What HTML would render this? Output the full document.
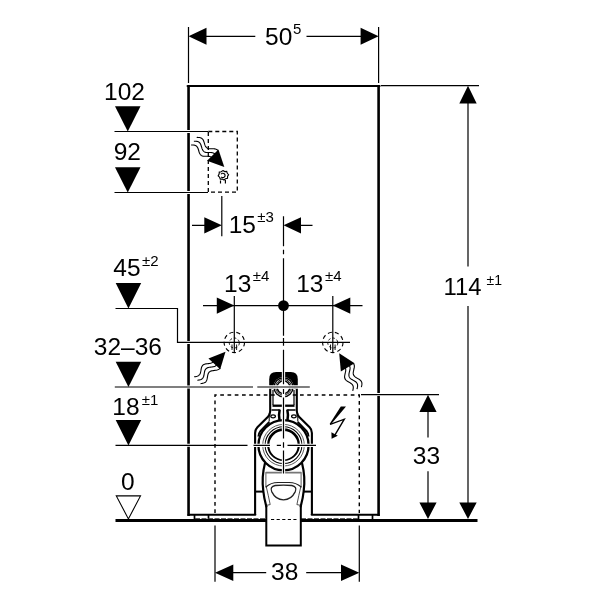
<!DOCTYPE html>
<html lang="en"><head><meta charset="utf-8"><title>Dimension drawing</title>
<style>html,body{margin:0;padding:0;background:#fff;width:600px;height:600px;overflow:hidden}svg{display:block;will-change:transform;filter:grayscale(1)}</style></head>
<body>
<svg width="600" height="600" viewBox="0 0 600 600">
<rect width="600" height="600" fill="#fff"/>
<g font-family="'Liberation Sans', Arial, sans-serif" fill="#000">
<path d="M188.55,515.9 V86 M378.6,515.9 V86" stroke="#000" stroke-width="2.6" fill="none"/>
<path d="M187.6,86 H379.6 M188.5,514.8 H255.3 M311.7,514.8 H378.6" stroke="#000" stroke-width="2.1" fill="none" stroke-linecap="round"/>
<path d="M194.5,515 V520 M208.5,515 V520 M358.5,515 V520 M372.5,515 V520" stroke="#000" stroke-width="1.7" fill="none"/>
<path d="M195,518.5 H266 M301,518.5 H358.5" stroke="#333" stroke-width="0.8" stroke-dasharray="5 1.5" fill="none"/>
<path d="M186,131.5 H191 M186,192.5 H191 M186,342.4 H191 M186,387 H191 M186,445.35 H191 M376,394.6 H381.5" stroke="#fff" stroke-width="3" fill="none"/>
<path d="M115.5,520.4 H266.3 M300.8,520.4 H477.5" stroke="#000" stroke-width="3" fill="none"/>
<path d="M188.5,27 V83 M378.6,27 V83" stroke="#000" stroke-width="1.2" fill="none"/>
<path d="M205,36.3 H255.3 M306.5,36.3 H362" stroke="#000" stroke-width="1.2" fill="none"/>
<path d="M188.5,36.3 L206.5,27.8 V44.8 Z M378.6,36.3 L360.6,27.8 V44.8 Z"/>
<text x="265" y="44.8" font-size="24.5">50<tspan font-size="15" dy="-11.3" dx="0.7">5</tspan></text>
<path d="M381,85.6 H479" stroke="#000" stroke-width="1.2" fill="none"/>
<path d="M468,102 V266.4 M468,306 V504" stroke="#000" stroke-width="1.2" fill="none"/>
<path d="M468,85.8 L459.3,103.6 H476.7 Z M468,519 L459.3,502.4 H476.7 Z"/>
<text x="443.5" y="295" font-size="23.5" textLength="38" lengthAdjust="spacingAndGlyphs">114</text>
<text x="486.5" y="285.3" font-size="14">±1</text>
<path d="M361,394.6 H439" stroke="#000" stroke-width="1.2" fill="none"/>
<path d="M428,410 V437.4 M428,471.2 V504" stroke="#000" stroke-width="1.2" fill="none"/>
<path d="M428,394.8 L419.4,412 H436.6 Z M428,519 L419.4,502.4 H436.6 Z"/>
<text x="412.8" y="464.1" font-size="24.5">33</text>
<path d="M215,525.5 V581.7 M359.3,525.5 V581.7" stroke="#000" stroke-width="1.2" fill="none"/>
<path d="M232,572.7 H266.2 M306.2,572.7 H342" stroke="#000" stroke-width="1.2" fill="none"/>
<path d="M215,572.7 L233.3,564.4 V581 Z M359.3,572.7 L341,564.4 V581 Z"/>
<text x="271" y="579.8" font-size="24.5">38</text>
<path d="M115.0,106.2 H140.5 L127.75,131.5 Z"/>
<path d="M115.0,167.2 H140.5 L127.75,192.5 Z"/>
<path d="M115.7,283.1 H141.2 L128.45,308.4 Z"/>
<path d="M115.7,361.7 H141.2 L128.45,387.0 Z"/>
<path d="M115.7,420.1 H141.2 L128.45,445.4 Z"/>
<path d="M116.3,495.9 H140.5 L128.4,518.9 Z" fill="#fff" stroke="#000" stroke-width="1.1"/>
<text x="104" y="100.2" font-size="24.5">102</text>
<text x="113.7" y="160.3" font-size="24.5">92</text>
<text x="113.3" y="276" font-size="24.5">45<tspan font-size="15" dy="-9.6" dx="1.5">±2</tspan></text>
<text x="93.8" y="355" font-size="24.5">32–36</text>
<text x="112.3" y="414.7" font-size="24.5">18<tspan font-size="15" dy="-9.9" dx="2.2">±1</tspan></text>
<text x="121" y="490" font-size="24.5">0</text>
<path d="M114.5,131.5 H208 M114.5,192.5 H208" stroke="#000" stroke-width="1.2" fill="none"/>
<path d="M115.5,308.5 H177.5 V342.4 H350" stroke="#000" stroke-width="1.2" fill="none"/>
<rect x="208.3" y="131.5" width="29" height="60.7" fill="none" stroke="#000" stroke-width="1.3" stroke-dasharray="4 3"/>
<g fill="none" stroke="#000" stroke-width="1.15"><path d="M222.9,170.6 l1.8,1 l2,-0.2 l0.6,1.9 l1.3,1.4 l-1,1.6 l-0.1,2 l-2,0.5 l-1.5,1.2 l-1.7,-0.9 l-2,0 l-0.7,-1.9 l-1.4,-1.4 l0.9,-1.7 l0.2,-2 l1.9,-0.4 Z"/><path d="M221,174.3 a2.2,2.2 0 1 1 0.2,2.6"/><path d="M220.5,180.4 V183.4 M225.4,180 V183.5"/></g>
<path d="M221.8,196 V236.3" stroke="#000" stroke-width="1.2" fill="none"/>
<path d="M192,225.3 H206 M299,225.3 H312.5" stroke="#000" stroke-width="1.2" fill="none"/>
<path d="M221.8,225.3 L204.3,217.2 V233.6 Z M283.5,225.3 L301,217.2 V233.6 Z"/>
<text x="228.7" y="232.7" font-size="24.5">15<tspan font-size="15" dy="-11" dx="1.3">±3</tspan></text>
<path d="M203,305.6 H362.5" stroke="#000" stroke-width="1.2" fill="none"/>
<path d="M234.3,296 V352.5 M332.8,296 V352.5" stroke="#000" stroke-width="1.2" fill="none"/>
<path d="M234.3,305.6 L216.8,297.4 V313.8 Z M332.8,305.6 L350.3,297.4 V313.8 Z"/>
<circle cx="283.5" cy="305.6" r="5.4"/>
<text x="224" y="291.7" font-size="24.5">13<tspan font-size="15" dy="-10.3" dx="1.5">±4</tspan></text>
<text x="296.2" y="291.7" font-size="24.5">13<tspan font-size="15" dy="-10.3" dx="1.5">±4</tspan></text>
<circle cx="234.3" cy="342.4" r="10.2" fill="none" stroke="#000" stroke-width="1.1" stroke-dasharray="4.1 3.02"/>
<circle cx="234.3" cy="343" r="5" fill="none" stroke="#000" stroke-width="0.9" stroke-dasharray="2.5 2"/>
<path d="M232.0,344.5 V350 M236.60000000000002,344.5 V350" stroke="#000" stroke-width="0.9" fill="none"/>
<circle cx="332.8" cy="342.4" r="10.2" fill="none" stroke="#000" stroke-width="1.1" stroke-dasharray="4.1 3.02"/>
<circle cx="332.8" cy="343" r="5" fill="none" stroke="#000" stroke-width="0.9" stroke-dasharray="2.5 2"/>
<path d="M330.5,344.5 V350 M335.1,344.5 V350" stroke="#000" stroke-width="0.9" fill="none"/>
<g transform="translate(224.3,167) rotate(45.6)"><path d="M-40.00,-4.70 L-39.38,-5.17 L-38.75,-5.62 L-38.12,-6.04 L-37.50,-6.39 L-36.88,-6.68 L-36.25,-6.88 L-35.62,-6.98 L-35.00,-6.99 L-34.38,-6.90 L-33.75,-6.72 L-33.12,-6.46 L-32.50,-6.11 L-31.88,-5.71 L-31.25,-5.26 L-30.62,-4.80 L-30.00,-4.32 L-29.38,-3.86 L-28.75,-3.44 L-28.12,-3.07 L-27.50,-2.77 L-26.88,-2.56 L-26.25,-2.43 L-25.62,-2.40 L-25.00,-2.47 L-24.38,-2.63 L-23.75,-2.88 L-23.12,-3.21 L-22.50,-3.61 L-21.88,-4.04 L-21.25,-4.51 L-20.62,-4.98 L-20.00,-5.45 L-19.38,-5.88 L-18.75,-6.26 L-18.12,-6.57 L-17.50,-6.81 L-16.88,-6.95 L-16.25,-7.00 L-15.62,-6.95 L-15.00,-6.81 M-40.00,0.00 L-39.38,-0.47 L-38.75,-0.92 L-38.12,-1.34 L-37.50,-1.69 L-36.88,-1.98 L-36.25,-2.18 L-35.62,-2.28 L-35.00,-2.29 L-34.38,-2.20 L-33.75,-2.02 L-33.12,-1.76 L-32.50,-1.41 L-31.88,-1.01 L-31.25,-0.56 L-30.62,-0.10 L-30.00,0.38 L-29.38,0.84 L-28.75,1.26 L-28.12,1.63 L-27.50,1.93 L-26.88,2.14 L-26.25,2.27 L-25.62,2.30 L-25.00,2.23 L-24.38,2.07 L-23.75,1.82 L-23.12,1.49 L-22.50,1.09 L-21.88,0.66 L-21.25,0.19 L-20.62,-0.28 L-20.00,-0.75 L-19.38,-1.18 L-18.75,-1.56 L-18.12,-1.87 L-17.50,-2.11 L-16.88,-2.25 L-16.25,-2.30 L-15.62,-2.25 L-15.00,-2.11 M-40.00,4.70 L-39.38,4.23 L-38.75,3.78 L-38.12,3.36 L-37.50,3.01 L-36.88,2.72 L-36.25,2.52 L-35.62,2.42 L-35.00,2.41 L-34.38,2.50 L-33.75,2.68 L-33.12,2.94 L-32.50,3.29 L-31.88,3.69 L-31.25,4.14 L-30.62,4.60 L-30.00,5.08 L-29.38,5.54 L-28.75,5.96 L-28.12,6.33 L-27.50,6.63 L-26.88,6.84 L-26.25,6.97 L-25.62,7.00 L-25.00,6.93 L-24.38,6.77 L-23.75,6.52 L-23.12,6.19 L-22.50,5.79 L-21.88,5.36 L-21.25,4.89 L-20.62,4.42 L-20.00,3.95 L-19.38,3.52 L-18.75,3.14 L-18.12,2.83 L-17.50,2.59 L-16.88,2.45 L-16.25,2.40 L-15.62,2.45 L-15.00,2.59" transform="rotate(-9 -16.5 0)" fill="none" stroke="#000" stroke-width="1.1"/><path d="M0,0 L-16.5,-8 L-16.5,8 Z" fill="#000"/></g>
<g transform="translate(225.5,351.8) rotate(-47.4)"><path d="M-40.00,-4.70 L-39.38,-4.23 L-38.75,-3.78 L-38.12,-3.36 L-37.50,-3.01 L-36.88,-2.72 L-36.25,-2.52 L-35.62,-2.42 L-35.00,-2.41 L-34.38,-2.50 L-33.75,-2.68 L-33.12,-2.94 L-32.50,-3.29 L-31.88,-3.69 L-31.25,-4.14 L-30.62,-4.60 L-30.00,-5.08 L-29.38,-5.54 L-28.75,-5.96 L-28.12,-6.33 L-27.50,-6.63 L-26.88,-6.84 L-26.25,-6.97 L-25.62,-7.00 L-25.00,-6.93 L-24.38,-6.77 L-23.75,-6.52 L-23.12,-6.19 L-22.50,-5.79 L-21.88,-5.36 L-21.25,-4.89 L-20.62,-4.42 L-20.00,-3.95 L-19.38,-3.52 L-18.75,-3.14 L-18.12,-2.83 L-17.50,-2.59 L-16.88,-2.45 L-16.25,-2.40 L-15.62,-2.45 L-15.00,-2.59 M-40.00,0.00 L-39.38,0.47 L-38.75,0.92 L-38.12,1.34 L-37.50,1.69 L-36.88,1.98 L-36.25,2.18 L-35.62,2.28 L-35.00,2.29 L-34.38,2.20 L-33.75,2.02 L-33.12,1.76 L-32.50,1.41 L-31.88,1.01 L-31.25,0.56 L-30.62,0.10 L-30.00,-0.38 L-29.38,-0.84 L-28.75,-1.26 L-28.12,-1.63 L-27.50,-1.93 L-26.88,-2.14 L-26.25,-2.27 L-25.62,-2.30 L-25.00,-2.23 L-24.38,-2.07 L-23.75,-1.82 L-23.12,-1.49 L-22.50,-1.09 L-21.88,-0.66 L-21.25,-0.19 L-20.62,0.28 L-20.00,0.75 L-19.38,1.18 L-18.75,1.56 L-18.12,1.87 L-17.50,2.11 L-16.88,2.25 L-16.25,2.30 L-15.62,2.25 L-15.00,2.11 M-40.00,4.70 L-39.38,5.17 L-38.75,5.62 L-38.12,6.04 L-37.50,6.39 L-36.88,6.68 L-36.25,6.88 L-35.62,6.98 L-35.00,6.99 L-34.38,6.90 L-33.75,6.72 L-33.12,6.46 L-32.50,6.11 L-31.88,5.71 L-31.25,5.26 L-30.62,4.80 L-30.00,4.32 L-29.38,3.86 L-28.75,3.44 L-28.12,3.07 L-27.50,2.77 L-26.88,2.56 L-26.25,2.43 L-25.62,2.40 L-25.00,2.47 L-24.38,2.63 L-23.75,2.88 L-23.12,3.21 L-22.50,3.61 L-21.88,4.04 L-21.25,4.51 L-20.62,4.98 L-20.00,5.45 L-19.38,5.88 L-18.75,6.26 L-18.12,6.57 L-17.50,6.81 L-16.88,6.95 L-16.25,7.00 L-15.62,6.95 L-15.00,6.81" transform="rotate(3.7 -16.5 0)" fill="none" stroke="#000" stroke-width="1.1"/><path d="M0,0 L-16.5,-8 L-16.5,8 Z" fill="#000"/></g>
<g transform="translate(339.2,353.3) rotate(-121)"><path d="M-40.00,-4.70 L-39.38,-4.23 L-38.75,-3.78 L-38.12,-3.36 L-37.50,-3.01 L-36.88,-2.72 L-36.25,-2.52 L-35.62,-2.42 L-35.00,-2.41 L-34.38,-2.50 L-33.75,-2.68 L-33.12,-2.94 L-32.50,-3.29 L-31.88,-3.69 L-31.25,-4.14 L-30.62,-4.60 L-30.00,-5.08 L-29.38,-5.54 L-28.75,-5.96 L-28.12,-6.33 L-27.50,-6.63 L-26.88,-6.84 L-26.25,-6.97 L-25.62,-7.00 L-25.00,-6.93 L-24.38,-6.77 L-23.75,-6.52 L-23.12,-6.19 L-22.50,-5.79 L-21.88,-5.36 L-21.25,-4.89 L-20.62,-4.42 L-20.00,-3.95 L-19.38,-3.52 L-18.75,-3.14 L-18.12,-2.83 L-17.50,-2.59 L-16.88,-2.45 L-16.25,-2.40 L-15.62,-2.45 L-15.00,-2.59 M-40.00,0.00 L-39.38,0.47 L-38.75,0.92 L-38.12,1.34 L-37.50,1.69 L-36.88,1.98 L-36.25,2.18 L-35.62,2.28 L-35.00,2.29 L-34.38,2.20 L-33.75,2.02 L-33.12,1.76 L-32.50,1.41 L-31.88,1.01 L-31.25,0.56 L-30.62,0.10 L-30.00,-0.38 L-29.38,-0.84 L-28.75,-1.26 L-28.12,-1.63 L-27.50,-1.93 L-26.88,-2.14 L-26.25,-2.27 L-25.62,-2.30 L-25.00,-2.23 L-24.38,-2.07 L-23.75,-1.82 L-23.12,-1.49 L-22.50,-1.09 L-21.88,-0.66 L-21.25,-0.19 L-20.62,0.28 L-20.00,0.75 L-19.38,1.18 L-18.75,1.56 L-18.12,1.87 L-17.50,2.11 L-16.88,2.25 L-16.25,2.30 L-15.62,2.25 L-15.00,2.11 M-40.00,4.70 L-39.38,5.17 L-38.75,5.62 L-38.12,6.04 L-37.50,6.39 L-36.88,6.68 L-36.25,6.88 L-35.62,6.98 L-35.00,6.99 L-34.38,6.90 L-33.75,6.72 L-33.12,6.46 L-32.50,6.11 L-31.88,5.71 L-31.25,5.26 L-30.62,4.80 L-30.00,4.32 L-29.38,3.86 L-28.75,3.44 L-28.12,3.07 L-27.50,2.77 L-26.88,2.56 L-26.25,2.43 L-25.62,2.40 L-25.00,2.47 L-24.38,2.63 L-23.75,2.88 L-23.12,3.21 L-22.50,3.61 L-21.88,4.04 L-21.25,4.51 L-20.62,4.98 L-20.00,5.45 L-19.38,5.88 L-18.75,6.26 L-18.12,6.57 L-17.50,6.81 L-16.88,6.95 L-16.25,7.00 L-15.62,6.95 L-15.00,6.81" transform="rotate(7.6 -16.5 0)" fill="none" stroke="#000" stroke-width="1.1"/><path d="M0,0 L-16.5,-8 L-16.5,8 Z" fill="#000"/></g>
<path d="M215,513 V395 H359.3 V513" fill="none" stroke="#000" stroke-width="1.4" stroke-dasharray="3.7 3.55"/>
<path d="M340.8,406.6 H346 L330.6,424.8 L329.6,423.9 Z" fill="#000"/>
<path d="M330.2,424.3 L344.3,419.2 L335,434.8" fill="none" stroke="#000" stroke-width="1.35" stroke-linejoin="miter"/>
<path d="M331.6,438.8 L331.4,432.2 L337.8,435.8 Z" fill="#000"/>
<g fill="none" stroke="#000" stroke-linejoin="round">
<path d="M270.2,386 V411 Q270.2,414.5 268,416.7 L257.4,427.3 Q255.1,429.6 255.1,433 V514.8" stroke-width="2.1"/>
<path d="M269.2,413 V421.5" stroke-width="1"/>
<path d="M269.3,421.8 L260.5,430.8 Q258.8,432.8 258.4,436.5" stroke-width="1.9"/>
<path d="M255.1,491.6 H263.3" stroke-width="2"/>
<path d="M296.8,386 V411 Q296.8,414.5 299.0,416.7 L309.6,427.3 Q311.9,429.6 311.9,433 V514.8" stroke-width="2.1"/>
<path d="M297.8,413 V421.5" stroke-width="1"/>
<path d="M297.7,421.8 L306.5,430.8 Q308.2,432.8 308.6,436.5" stroke-width="1.9"/>
<path d="M311.9,491.6 H303.7" stroke-width="2"/>
<circle cx="283.5" cy="445.2" r="25.1" stroke-width="2.3"/>
<circle cx="283.5" cy="445.2" r="20.8" stroke-width="0.8" stroke="#333"/>
<circle cx="283.5" cy="445.1" r="18.4" stroke-width="1.05"/>
</g>
<path fill-rule="evenodd" fill="#000" d="M267.1,444.7 a16.4,16.4 0 1 0 32.8,0 a16.4,16.4 0 1 0 -32.8,0 Z M269.3,445.2 a14.2,14.2 0 1 0 28.4,0 a14.2,14.2 0 1 0 -28.4,0 Z"/>
<path d="M269.2,389 V379.2 Q269.2,372.1 276.2,372.1 H290.8 Q297.8,372.1 297.8,379.2 V389 Z" fill="#000"/>
<circle cx="283.5" cy="387.2" r="10.3" fill="#fff"/>
<g fill="none" stroke="#000">
<circle cx="283.5" cy="387.2" r="9.5" stroke-width="1.4"/>
<circle cx="283.5" cy="387.2" r="7.9" stroke-width="0.9"/>
<circle cx="283.5" cy="387.2" r="6.4" stroke-width="1.5"/>
<path d="M273,390 V405 M294,390 V405" stroke-width="1.2"/>
<path d="M272.5,405.7 H294.5" stroke-width="2.3"/>
<path d="M271.5,410 H279.7 M287.3,410 H295.5" stroke-width="1.4"/>
<path d="M279.7,409.6 Q278.5,415 279.5,420 M287.3,409.6 Q288.5,415 287.5,420" stroke-width="2.5"/>
<ellipse cx="273.1" cy="416.3" rx="2.3" ry="1.5" stroke-width="1.3"/>
<ellipse cx="293.9" cy="416.3" rx="2.3" ry="1.5" stroke-width="1.3"/>
</g>
<g fill="none" stroke="#000" stroke-linecap="round">
<path d="M264.9,463.5 C263.2,470 262,481 263.3,491 C264,498 265.4,503 266.3,506.5 M302.1,463.5 C303.8,470 305,481 303.7,491 C303,498 301.6,503 300.7,506.5" stroke-width="2.2"/>
<path d="M265.9,472.5 V487 M301.1,472.5 V487" stroke-width="0.8" stroke="#333"/>
<path d="M266.3,506 V545.5 H300.8 V506" stroke-width="2" stroke-linejoin="miter" stroke-linecap="butt"/>
<path d="M265.8,472.6 H301.2" stroke-width="1.8" stroke="#777" stroke-linecap="butt"/>
<path d="M266.2,486.8 C269,484.2 273,482.6 278,482.5 H289 C294,482.6 298,484.2 300.9,486.8" stroke-width="1.2" stroke="#222"/>
<path d="M266.3,486.8 Q268.5,496 270.2,504.6 L267.2,505.2 M300.8,486.8 Q298.6,496 296.9,504.6 L299.9,505.2" stroke-width="0.8" stroke="#222"/>
<path d="M275.2,485.5 Q283.5,484.6 291.8,485.5 Q297.4,486.6 295.3,491.6 Q291.3,499.8 283.5,499.8 Q275.7,499.8 271.7,491.6 Q269.6,486.6 275.2,485.5 Z" stroke-width="1.3" stroke="#222"/>
<path d="M271,519.5 H296.5" stroke-width="1" stroke-dasharray="3.2 2.4" stroke-linecap="butt"/>
</g>
<path d="M257.3,387 H309.8 M253.5,445.35 H316.5 M283.5,371 V474" stroke="#fff" stroke-width="3.3" fill="none"/>
<path d="M114.8,387 H253 M257.3,387 H309.8" stroke="#000" stroke-width="1.2" fill="none"/>
<path d="M115.5,445.35 H247.5 M253.5,445.35 H270 M276.8,445.35 H281 M287.5,445.35 H316" stroke="#000" stroke-width="1.2" fill="none"/>
<path d="M283.5,216.2 V246.3 M283.5,249.8 V254.3 M283.5,258.3 V335.7 M283.5,338 V345.7 M283.5,349.7 V384.3 M283.5,389 V394 M283.5,397.5 V438.5 M283.5,442.3 V447.7 M283.5,450.5 V473.4" stroke="#000" stroke-width="1.2" fill="none"/>
</g></svg>
</body></html>
